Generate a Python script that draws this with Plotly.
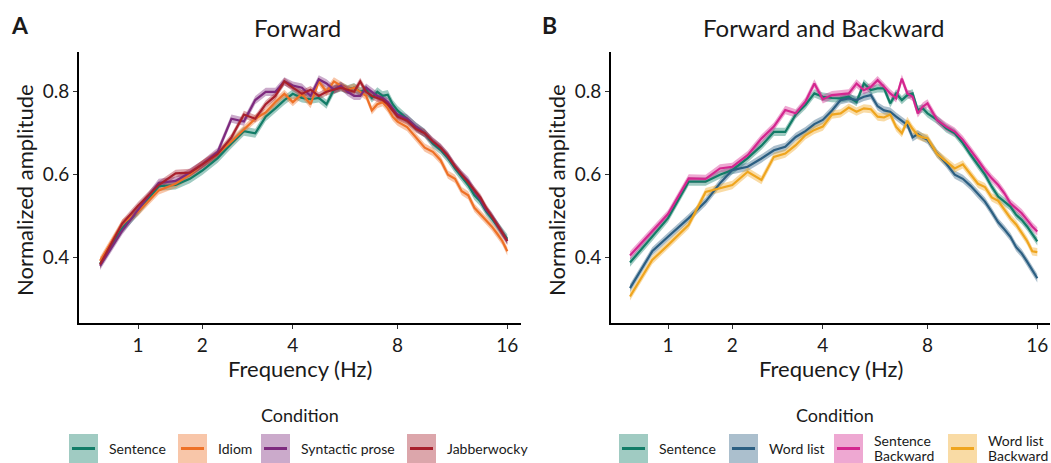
import numpy as np
import plotly.graph_objects as go

# ---------------------------------------------------------------- data
FREQ_HZ = [0.5, 0.75, 1.0, 1.25, 1.5, 1.75, 2.0, 2.25, 2.5, 2.75, 3.0, 3.25, 3.5, 3.75, 4.0,
           4.25, 4.5, 4.75, 5.0, 5.25, 5.5, 5.75, 6.0, 6.25, 6.5, 6.75, 7.0, 7.25, 7.5, 7.75, 8.0,
           8.5, 9.0, 9.5, 10.0, 10.5, 11.0, 11.5, 12.0, 12.5, 13.0, 13.5, 14.0, 14.5, 15.0, 15.5, 16.0]

# Panel A: forward conditions
A_SENTENCE = [0.385, 0.470, 0.512, 0.572, 0.575, 0.590, 0.610, 0.640, 0.675, 0.705, 0.700, 0.740, 0.760, 0.780, 0.795,
              0.785, 0.782, 0.785, 0.770, 0.805, 0.812, 0.805, 0.810, 0.800, 0.805, 0.785, 0.800, 0.790, 0.793, 0.770, 0.755,
              0.735, 0.715, 0.700, 0.675, 0.660, 0.640, 0.615, 0.595, 0.575, 0.550, 0.535, 0.512, 0.495, 0.478, 0.460, 0.445]
A_IDIOM = [0.392, 0.482, 0.510, 0.562, 0.578, 0.600, 0.625, 0.650, 0.680, 0.710, 0.735, 0.750, 0.775, 0.795, 0.775,
           0.795, 0.770, 0.825, 0.800, 0.825, 0.815, 0.805, 0.810, 0.800, 0.790, 0.755, 0.770, 0.775, 0.760, 0.740, 0.728,
           0.715, 0.690, 0.665, 0.655, 0.635, 0.600, 0.590, 0.560, 0.550, 0.520, 0.505, 0.490, 0.475, 0.458, 0.440, 0.415]
A_PROSE = [0.380, 0.465, 0.515, 0.580, 0.585, 0.605, 0.625, 0.655, 0.735, 0.728, 0.780, 0.800, 0.800, 0.825, 0.815,
           0.810, 0.790, 0.830, 0.820, 0.805, 0.815, 0.800, 0.790, 0.790, 0.810, 0.800, 0.790, 0.785, 0.775, 0.760, 0.745,
           0.735, 0.715, 0.700, 0.680, 0.665, 0.645, 0.620, 0.600, 0.585, 0.560, 0.540, 0.515, 0.500, 0.480, 0.460, 0.440]
A_JABBER = [0.383, 0.482, 0.525, 0.575, 0.603, 0.605, 0.625, 0.650, 0.690, 0.745, 0.735, 0.770, 0.790, 0.825, 0.810,
            0.795, 0.805, 0.790, 0.800, 0.805, 0.810, 0.805, 0.800, 0.825, 0.800, 0.790, 0.785, 0.780, 0.770, 0.755, 0.740,
            0.730, 0.710, 0.700, 0.680, 0.665, 0.645, 0.620, 0.600, 0.580, 0.560, 0.545, 0.520, 0.500, 0.480, 0.460, 0.440]

# Panel B: forward and backward conditions
B_SENTENCE = [0.388, 0.450, 0.495, 0.583, 0.583, 0.600, 0.611, 0.640, 0.670, 0.703, 0.703, 0.745, 0.768, 0.796, 0.788,
              0.785, 0.784, 0.788, 0.775, 0.820, 0.804, 0.808, 0.808, 0.772, 0.796, 0.780, 0.792, 0.796, 0.756, 0.760, 0.748,
              0.732, 0.712, 0.700, 0.676, 0.648, 0.623, 0.600, 0.571, 0.547, 0.535, 0.523, 0.503, 0.491, 0.475, 0.458, 0.439]
B_WORDLIST = [0.326, 0.415, 0.450, 0.495, 0.535, 0.579, 0.611, 0.619, 0.639, 0.659, 0.667, 0.691, 0.705, 0.722, 0.732,
              0.755, 0.780, 0.784, 0.780, 0.788, 0.792, 0.765, 0.755, 0.752, 0.740, 0.730, 0.720, 0.690, 0.698, 0.690, 0.684,
              0.651, 0.627, 0.600, 0.590, 0.573, 0.553, 0.535, 0.510, 0.485, 0.468, 0.450, 0.425, 0.410, 0.390, 0.370, 0.350]
B_SENTENCE_BW = [0.405, 0.465, 0.505, 0.591, 0.590, 0.615, 0.619, 0.647, 0.687, 0.716, 0.756, 0.748, 0.776, 0.820, 0.782,
                 0.792, 0.794, 0.796, 0.820, 0.804, 0.812, 0.828, 0.812, 0.796, 0.784, 0.832, 0.796, 0.788, 0.748, 0.764, 0.772,
                 0.732, 0.716, 0.704, 0.684, 0.660, 0.635, 0.611, 0.591, 0.575, 0.555, 0.531, 0.519, 0.507, 0.491, 0.475, 0.463]
B_WORDLIST_BW = [0.306, 0.394, 0.430, 0.479, 0.558, 0.567, 0.575, 0.607, 0.587, 0.643, 0.651, 0.671, 0.695, 0.708, 0.716,
                 0.745, 0.748, 0.762, 0.752, 0.760, 0.758, 0.740, 0.738, 0.745, 0.715, 0.700, 0.730, 0.710, 0.695, 0.690, 0.688,
                 0.650, 0.632, 0.615, 0.625, 0.600, 0.578, 0.570, 0.545, 0.537, 0.515, 0.495, 0.480, 0.460, 0.440, 0.415, 0.413]

# half-width of the shaded error band for each condition
A_SE = [0.011, 0.010, 0.010, 0.009]
B_SE = [0.010, 0.010, 0.010, 0.010]

A_NAMES = ["Sentence", "Idiom", "Syntactic prose", "Jabberwocky"]
B_NAMES = ["Sentence", "Word list", "Sentence\nBackward", "Word list\nBackward"]
A_COLORS = ["#127c67", "#ee7127", "#7d2a7e", "#a8202c"]
B_COLORS = ["#127c67", "#2c5f82", "#d4268f", "#efa51e"]

TICK_HZ = [1, 2, 4, 8, 16]

# frequency axis: warped octave scale (anchor frequencies -> axis units)
WARP_HZ = [0.5, 1, 2, 4, 8, 16]
WARP_POS = [-38.0, 0.0, 64.3, 154.8, 259.5, 369.3]


def warp(f):
    return np.interp(np.log2(np.asarray(f, dtype=float)), np.log2(WARP_HZ), WARP_POS)


def rgba(hex_color, a):
    h = hex_color.lstrip("#")
    r, g, b = (int(h[i:i + 2], 16) for i in (0, 2, 4))
    return f"rgba({r},{g},{b},{a})"


W, H = 1051, 463
FONT = "Lato"
TXT = "#1a1a1a"


def px(x):
    return x / W


def py(y):
    return 1 - y / H


fig = go.Figure()

panels = [
    ("x", "y", [A_SENTENCE, A_IDIOM, A_PROSE, A_JABBER], A_SE, A_COLORS),
    ("x2", "y2", [B_SENTENCE, B_WORDLIST, B_SENTENCE_BW, B_WORDLIST_BW], B_SE, B_COLORS),
]

xw = warp(FREQ_HZ)
for xa, ya, series, ses, cols in panels:
    # error bands first, then the mean lines on top
    for vals, se, col in zip(series, ses, cols):
        v = np.asarray(vals)
        fig.add_trace(go.Scatter(
            x=np.concatenate([xw, xw[::-1]]),
            y=np.concatenate([v + se, (v - se)[::-1]]),
            fill="toself", fillcolor=rgba(col, 0.4), line=dict(width=0),
            hoverinfo="skip", showlegend=False, xaxis=xa, yaxis=ya))
    for vals, col in zip(series, cols):
        fig.add_trace(go.Scatter(
            x=xw, y=vals, mode="lines", line=dict(color=col, width=2.2),
            showlegend=False, xaxis=xa, yaxis=ya))

axis_common = dict(
    showgrid=False, zeroline=False, showline=True, linecolor="black", linewidth=2,
    ticks="outside", ticklen=4, tickwidth=1, tickcolor="#333333",
    tickfont=dict(family=FONT, size=19, color=TXT),
)

fig.update_layout(
    width=W, height=H, margin=dict(l=0, r=0, t=0, b=0),
    paper_bgcolor="white", plot_bgcolor="white", showlegend=False,
    xaxis=dict(domain=[px(79), px(521)], range=[-59, 383], anchor="y",
               tickvals=warp(TICK_HZ), ticktext=[str(t) for t in TICK_HZ], **axis_common),
    yaxis=dict(domain=[py(323), py(52)], range=[0.242, 0.896], anchor="x",
               tickvals=[0.4, 0.6, 0.8], ticktext=["0.4", "0.6", "0.8"], **axis_common),
    xaxis2=dict(domain=[px(611), px(1050)], range=[-57, 382], anchor="y2",
                tickvals=warp(TICK_HZ), ticktext=[str(t) for t in TICK_HZ], **axis_common),
    yaxis2=dict(domain=[py(323), py(52)], range=[0.242, 0.896], anchor="x2",
                tickvals=[0.4, 0.6, 0.8], ticktext=["0.4", "0.6", "0.8"], **axis_common),
)

ann = []
shapes = []


def text(x, y, s, size, bold=False, angle=0, xanchor="center"):
    ann.append(dict(x=px(x), y=py(y), xref="paper", yref="paper", text=f"<b>{s}</b>" if bold else s,
                    showarrow=False, textangle=angle, xanchor=xanchor, yanchor="middle",
                    font=dict(family=FONT, size=size, color=TXT)))


# panel letters and titles
text(19.5, 25, "A", 23, bold=True)
text(549, 25, "B", 23, bold=True)
text(297, 27, "Forward", 24)
text(824, 27, "Forward and Backward", 24)

# axis titles
for cx, cy in [(300, 368), (831, 368)]:
    text(cx, cy, "Frequency (Hz)", 22)
for cx in [24, 556]:
    text(cx, 190, "Normalized amplitude", 22, angle=-90)

# legends: shaded key square with the condition's line across it
legend_specs = [
    (300, A_NAMES, A_COLORS, [69, 178, 261, 407]),
    (835, B_NAMES, B_COLORS, [619, 729, 834, 948]),
]
for cx, names, cols, lefts in legend_specs:
    text(cx, 415, "Condition", 18)
    for name, col, x0 in zip(names, cols, lefts):
        shapes.append(dict(type="rect", xref="paper", yref="paper",
                           x0=px(x0), x1=px(x0 + 29), y0=py(463), y1=py(434),
                           fillcolor=rgba(col, 0.4), line=dict(width=0), layer="above"))
        shapes.append(dict(type="line", xref="paper", yref="paper",
                           x0=px(x0 + 3), x1=px(x0 + 26), y0=py(448.5), y1=py(448.5),
                           line=dict(color=col, width=3), layer="above"))
        lines = name.split("\n")
        ys = [448.5] if len(lines) == 1 else [440.5, 455]
        for ln, yy in zip(lines, ys):
            ann.append(dict(x=px(x0 + 38), y=py(yy), xref="paper", yref="paper", text=ln,
                            showarrow=False, xanchor="left", yanchor="middle", align="left",
                            font=dict(family=FONT, size=14, color=TXT)))

fig.update_layout(annotations=ann, shapes=shapes)
fig.write_html("out.html")
